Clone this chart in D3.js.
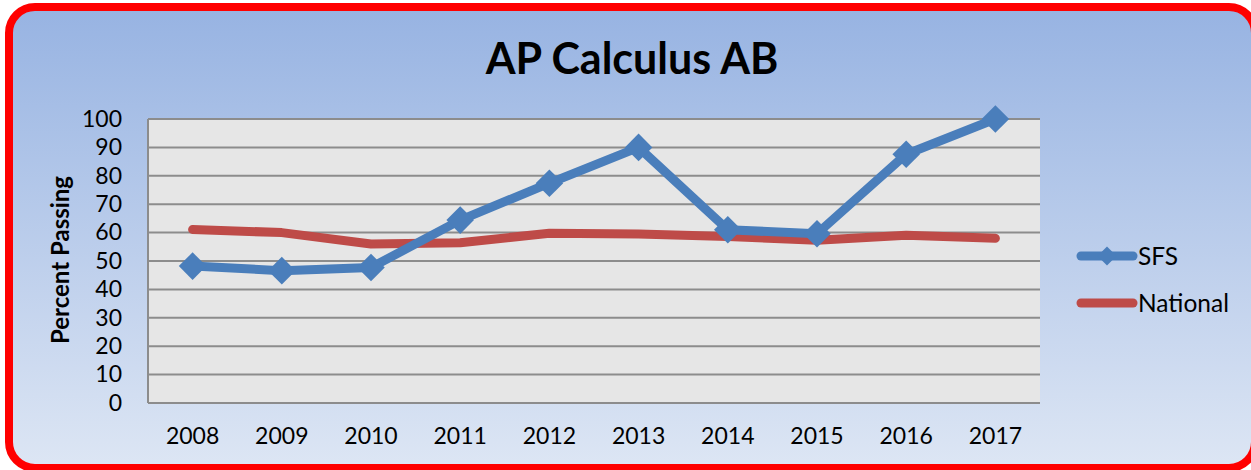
<!DOCTYPE html>
<html>
<head>
<meta charset="utf-8">
<script src="https://cdnjs.cloudflare.com/ajax/libs/d3/7.8.5/d3.min.js"></script>
<style>
  body { margin: 0; background: #fff; }
  svg { display: block; font-family: Lato, "Open Sans", sans-serif; }
</style>
</head>
<body>
<div id="chart"></div>
<script>
const years = ['2008', '2009', '2010', '2011', '2012', '2013', '2014', '2015', '2016', '2017'];
const sfs = [48.2, 46.6, 47.7, 64.4, 77.4, 90, 61, 59.6, 87.6, 100];
const national = [61.1, 60, 56, 56.4, 59.8, 59.5, 58.6, 57.3, 59.1, 58];
const yTicks = [0, 10, 20, 30, 40, 50, 60, 70, 80, 90, 100];
const seriesNames = ['SFS', 'National'];

const width = 1251, height = 470;
const margin = { top: 119, right: 211, bottom: 67, left: 148 };
const plotW = width - margin.left - margin.right;
const plotH = height - margin.top - margin.bottom;

const svg = d3.select('#chart')
    .append('svg')
    .attr('width', width)
    .attr('height', height);

const defs = svg.append('defs');
const grad = defs.append('linearGradient')
    .attr('id', 'bg')
    .attr('x1', 0).attr('y1', 0).attr('x2', 0).attr('y2', 1);
grad.append('stop').attr('offset', '0%').attr('stop-color', '#97b3e2');
grad.append('stop').attr('offset', '100%').attr('stop-color', '#dde6f4');

// background + red frame
svg.append('rect')
    .attr('x', 9).attr('y', 7)
    .attr('width', 1246).attr('height', 461)
    .attr('rx', 26).attr('ry', 26)
    .attr('fill', 'url(#bg)')
    .attr('stroke', '#ff0000')
    .attr('stroke-width', 8);

svg.append('text')
    .attr('x', 632)
    .attr('y', 74)
    .attr('text-anchor', 'middle')
    .style('font-size', '43px')
    .style('font-weight', 'bold')
    .text('AP Calculus AB');

const x = d3.scaleBand()
    .domain(years)
    .range([margin.left, margin.left + plotW]);

const y = d3.scaleLinear()
    .domain([0, 100])
    .range([margin.top + plotH, margin.top]);

svg.append('rect')
    .attr('x', margin.left)
    .attr('y', margin.top)
    .attr('width', plotW)
    .attr('height', plotH)
    .attr('fill', '#e6e6e6');

// gridlines
svg.append('g')
    .selectAll('line')
    .data(yTicks)
    .enter()
    .append('line')
    .attr('x1', margin.left)
    .attr('x2', margin.left + plotW)
    .attr('y1', d => y(d))
    .attr('y2', d => y(d))
    .attr('stroke', '#8c8c8c')
    .attr('stroke-width', 2);

svg.append('line')
    .attr('x1', margin.left).attr('x2', margin.left)
    .attr('y1', margin.top).attr('y2', margin.top + plotH)
    .attr('stroke', '#8c8c8c')
    .attr('stroke-width', 2);

// y axis
const yAxis = svg.append('g')
    .attr('transform', `translate(${margin.left},0)`)
    .call(d3.axisLeft(y).tickValues(yTicks).tickSize(0).tickPadding(26));
yAxis.select('.domain').remove();
yAxis.selectAll('text')
    .style('font-size', '23px')
    .style('font-family', 'Lato, sans-serif')
    .attr('fill', '#000');

// x axis
const xAxis = svg.append('g')
    .attr('transform', `translate(0,${margin.top + plotH})`)
    .call(d3.axisBottom(x).tickSize(0).tickPadding(25));
xAxis.select('.domain').remove();
xAxis.selectAll('text')
    .style('font-size', '23px')
    .style('font-family', 'Lato, sans-serif')
    .attr('fill', '#000');

svg.append('text')
    .attr('transform', 'translate(69,260) rotate(-90)')
    .attr('text-anchor', 'middle')
    .style('font-size', '24px')
    .style('font-weight', 'bold')
    .text('Percent Passing');

const cx = d => x(d) + x.bandwidth() / 2;

const line = d3.line()
    .x((d, i) => cx(years[i]))
    .y(d => y(d));

svg.append('path')
    .datum(national)
    .attr('d', line)
    .attr('fill', 'none')
    .attr('stroke', '#be4b48')
    .attr('stroke-width', 9)
    .attr('stroke-linecap', 'round')
    .attr('stroke-linejoin', 'round');

svg.append('path')
    .datum(sfs)
    .attr('d', line)
    .attr('fill', 'none')
    .attr('stroke', '#4a7ebb')
    .attr('stroke-width', 9)
    .attr('stroke-linejoin', 'round');

const diamond = d3.symbol().type(d3.symbolSquare).size(380);

svg.selectAll('.sfs-marker')
    .data(sfs)
    .enter()
    .append('path')
    .attr('class', 'sfs-marker')
    .attr('d', diamond)
    .attr('transform', (d, i) => `translate(${cx(years[i])},${y(d)}) rotate(45)`)
    .attr('fill', '#4a7ebb');

// legend
const legendColors = ['#4a7ebb', '#be4b48'];
const legend = svg.append('g');
seriesNames.forEach((name, i) => {
    const ly = 256 + i * 47;
    legend.append('line')
        .attr('x1', 1081).attr('x2', 1133)
        .attr('y1', ly).attr('y2', ly)
        .attr('stroke', legendColors[i])
        .attr('stroke-width', 9)
        .attr('stroke-linecap', 'round');
    if (i === 0) {
        legend.append('path')
            .attr('d', d3.symbol().type(d3.symbolSquare).size(180))
            .attr('transform', `translate(1107,${ly}) rotate(45)`)
            .attr('fill', legendColors[i]);
    }
    legend.append('text')
        .attr('x', 1138)
        .attr('y', ly + 9)
        .style('font-size', '24.5px')
        .text(name);
});
</script>
</body>
</html>
